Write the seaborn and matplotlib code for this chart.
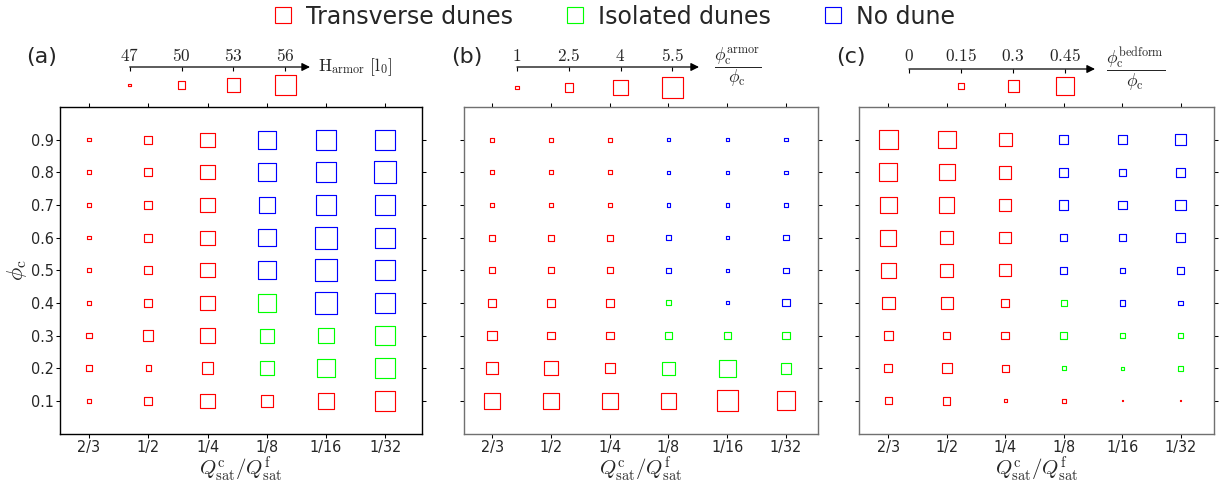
import numpy as np
import pandas as pd
import matplotlib
matplotlib.use("Agg")
import matplotlib.pyplot as plt
from matplotlib import font_manager
from matplotlib.lines import Line2D
import seaborn as sns

# ---------------- data ----------------
flux_ratio = ["2/3", "1/2", "1/4", "1/8", "1/16", "1/32"]
phi_c = [0.1, 0.2, 0.3, 0.4, 0.5, 0.6, 0.7, 0.8, 0.9]

# bedform regime for each flux-ratio column, from phi_c = 0.1 up to 0.9
# T: transverse dunes, I: isolated dunes, N: no dune
regime = [
    list("TTTTTTTTT"),
    list("TTTTTTTTT"),
    list("TTTTTTTTT"),
    list("TIIINNNNN"),
    list("TIINNNNNN"),
    list("TIINNNNNN"),
]

# (a) armor layer thickness H_armor [l0]
h_armor = [
    [47.5, 48.9, 48.9, 47.5, 47.5, 47.5, 47.5, 47.5, 47.5],
    [50.3, 48.7, 51.4, 50.3, 50.3, 50.3, 50.3, 50.3, 50.3],
    [53.4, 52.3, 53.4, 53.4, 53.4, 53.4, 53.4, 53.4, 53.4],
    [52.3, 53.3, 53.3, 54.8, 54.8, 54.8, 54.05, 54.8, 54.8],
    [54.05, 54.7, 54.05, 56.4, 56.4, 56.4, 55.6, 55.6, 55.6],
    [55.6, 55.6, 55.6, 55.6, 55.6, 55.6, 55.6, 56.4, 55.6],
]

# (b) phi_c^armor / phi_c
armor_ratio = [
    [4.0, 3.2, 2.85, 2.4, 1.8, 1.8, 1.3, 1.2, 1.2],
    [4.1, 3.7, 2.4, 2.4, 1.8, 1.8, 1.2, 1.2, 1.2],
    [4.1, 2.9, 2.4, 2.4, 1.8, 1.8, 1.2, 1.2, 1.2],
    [4.1, 3.5, 2.2, 1.6, 1.6, 1.6, 1.1, 1.1, 1.1],
    [5.5, 4.45, 2.2, 1.0, 1.0, 1.0, 1.0, 1.0, 1.0],
    [4.9, 3.05, 2.2, 2.2, 1.6, 1.6, 1.0, 1.0, 1.0],
]

# (c) phi_c^bedform / phi_c
bedform_ratio = [
    [0.17, 0.20, 0.24, 0.33, 0.38, 0.40, 0.42, 0.44, 0.46],
    [0.19, 0.26, 0.19, 0.31, 0.34, 0.35, 0.39, 0.40, 0.44],
    [0.07, 0.17, 0.20, 0.21, 0.31, 0.31, 0.33, 0.33, 0.34],
    [0.10, 0.10, 0.17, 0.15, 0.17, 0.17, 0.25, 0.25, 0.25],
    [0.0, 0.06, 0.11, 0.125, 0.125, 0.17, 0.23, 0.17, 0.23],
    [0.0, 0.11, 0.11, 0.11, 0.19, 0.23, 0.29, 0.23, 0.29],
]

# size-key values and their labels
h_keys = [47, 50, 53, 56]
h_key_labels = ["47", "50", "53", "56"]
armor_keys = [1, 2.5, 4, 5.5]
armor_key_labels = ["1", "2.5", "4", "5.5"]
bedform_keys = [0, 0.15, 0.3, 0.45]
bedform_key_labels = ["0", "0.15", "0.3", "0.45"]

regime_names = {"T": "Transverse dunes", "I": "Isolated dunes", "N": "No dune"}

# ---------------- style ----------------
sns.set_style("white")
plt.rcParams["mathtext.fontset"] = "cm"
plt.rcParams["font.family"] = ["DejaVu Sans"]


def pick_tick_font():
    entries = font_manager.fontManager.ttflist
    if any(f.name == "Liberation Sans Narrow" for f in entries):
        return {"family": "Liberation Sans Narrow"}
    if any(f.name == "DejaVu Sans" and "condensed" in str(f.stretch) for f in entries):
        return {"family": "DejaVu Sans", "stretch": "condensed"}
    return {"family": "DejaVu Sans"}


TICK_FONT = pick_tick_font()

W, H, DPI = 1219, 490, 100
LW_PX = 1.15
LW_PT = LW_PX * 72 / DPI
palette = {"Transverse dunes": "#ff0000", "Isolated dunes": "#00ff00", "No dune": "#0000ff"}

# outer square side (px) at each key value of the three size scales
h_px = [4.0, 8.7, 14.3, 22.0]
armor_px = [4.3, 9.3, 16.7, 22.0]
bedform_px = [1.8, 7.3, 12.3, 19.3]


def side_px(v, keys, px):
    keys = np.asarray(keys, float)
    px = np.asarray(px, float)
    if v < keys[0]:
        return px[0] + (v - keys[0]) * (px[1] - px[0]) / (keys[1] - keys[0])
    if v > keys[-1]:
        return px[-1] + (v - keys[-1]) * (px[-1] - px[-2]) / (keys[-1] - keys[-2])
    return float(np.interp(v, keys, px))


def marker_area(v, keys, px):
    inner = max(side_px(v, keys, px) - LW_PX, 0.8)
    return (inner * 72 / DPI) ** 2


def make_hollow(coll):
    fc = coll.get_facecolors()
    coll.set_edgecolors(fc)
    coll.set_facecolors("none")
    coll.set_linewidths(LW_PT)


fig = plt.figure(figsize=(W / DPI, H / DPI), dpi=DPI)


def px_axes(x0, y0, x1, y1):
    return fig.add_axes([x0 / W, 1 - y1 / H, (x1 - x0) / W, (y1 - y0) / H])


def draw_panel(ax, values, keys, px, xlim, spine_color):
    df = pd.DataFrame({
        "flux": np.repeat(flux_ratio, len(phi_c)),
        "phi": np.tile(phi_c, len(flux_ratio)),
        "value": np.concatenate(values),
        "regime": [regime_names[r] for col in regime for r in col],
    })
    sizes = {v: marker_area(v, keys, px) for v in np.unique(df["value"])}
    sns.scatterplot(data=df, x="flux", y="phi", hue="regime", palette=palette,
                    size="value", sizes=sizes, marker="s", legend=False, ax=ax)
    make_hollow(ax.collections[-1])
    ax.set_xlim(*xlim)
    ax.set_ylim(0, 1)
    ax.set_yticks(phi_c)
    ax.set_yticklabels([f"{p:.1f}" for p in phi_c])
    ax.tick_params(axis="both", direction="out", length=3.0, width=0.75, color="k",
                   top=True, right=True, bottom=True, left=True,
                   labelsize=11.5, pad=1.5)
    for lab in ax.get_xticklabels() + ax.get_yticklabels():
        lab.set_family(TICK_FONT["family"])
        if "stretch" in TICK_FONT:
            lab.set_stretch(TICK_FONT["stretch"])
    for sp in ax.spines.values():
        sp.set_color(spine_color)
        sp.set_linewidth(1.0)
    ax.set_xlabel(r"$Q^{\rm c}_{\rm sat}/Q^{\rm f}_{\rm sat}$", fontsize=15)
    ax.xaxis.set_label_coords(0.5, -0.063)
    ax.set_ylabel("")


def draw_key(x0, x1, keys, labels, px, y_arrow, y_sq, tip_px):
    kax = px_axes(x0, 40, x1, 100)
    kdf = pd.DataFrame({"value": keys, "y": [y_sq] * len(keys)})
    sizes = {v: marker_area(v, keys, px) for v in np.unique(kdf["value"])}
    sns.scatterplot(data=kdf, x="value", y="y", size="value", sizes=sizes,
                    marker="s", color="#ff0000", legend=False, ax=kax)
    coll = kax.collections[-1]
    make_hollow(coll)
    coll.set_clip_on(False)
    kax.set_xlim(keys[0], keys[-1])
    kax.set_ylim(100, 40)
    kax.axis("off")
    tip = keys[0] + (tip_px - x0) / (x1 - x0) * (keys[-1] - keys[0])
    kax.annotate("", xy=(tip, y_arrow), xytext=(keys[0], y_arrow),
                 arrowprops=dict(arrowstyle="-|>", color="k", lw=0.9,
                                 mutation_scale=12, shrinkA=0, shrinkB=0),
                 annotation_clip=False)
    kax.vlines(keys, y_arrow, y_arrow + 4, color="k", lw=0.8, clip_on=False)
    for k, t in zip(keys, labels):
        kax.text(k, 56, f"${t}$", ha="center", va="center", fontsize=12.5)
    return kax


# main panels (pixel boxes)
ax_a = px_axes(60, 107, 422, 433.5)
ax_b = px_axes(464, 107, 818, 433.5)
ax_c = px_axes(859, 107, 1214, 433.5)

draw_panel(ax_a, h_armor, h_keys, h_px, (-0.49, 5.62), "k")
draw_panel(ax_b, armor_ratio, armor_keys, armor_px, (-0.48, 5.545), "#707070")
draw_panel(ax_c, bedform_ratio, bedform_keys, bedform_px, (-0.5, 5.57), "#707070")

ax_a.tick_params(labelleft=True)
ax_b.tick_params(labelleft=False)
ax_c.tick_params(labelleft=False)
ax_a.set_ylabel(r"$\phi_{\rm c}$", fontsize=16)
ax_a.yaxis.set_label_coords(-0.085, 0.5)

# size keys above each panel
ka = draw_key(129.7, 285.3, h_keys, h_key_labels, h_px, 67, 85, 310)
ka.text(1.21, 67, r"$\mathrm{H}_{\mathrm{armor}}\ [\mathrm{l}_0]$",
        transform=ka.get_yaxis_transform(), ha="left", va="center", fontsize=12.5)

kb = draw_key(517, 672.3, armor_keys, armor_key_labels, armor_px, 67, 87.5, 699)
kb.text(1.42, 67, r"$\dfrac{\phi_{\rm c}^{\rm armor}}{\phi_{\rm c}}$",
        transform=kb.get_yaxis_transform(), ha="center", va="center", fontsize=12.5)

kc = draw_key(909, 1065.3, bedform_keys, bedform_key_labels, bedform_px, 69, 86, 1095)
kc.text(1.45, 69, r"$\dfrac{\phi_{\rm c}^{\rm bedform}}{\phi_{\rm c}}$",
        transform=kc.get_yaxis_transform(), ha="center", va="center", fontsize=12.5)

# panel letters
for x, t in [(26, "(a)"), (451, "(b)"), (836, "(c)")]:
    fig.text(x / W, 1 - 57 / H, t, ha="left", va="center", fontsize=16)

# regime legend
handles = [Line2D([], [], ls="none", marker="s", markersize=12.2, markerfacecolor="none",
                  markeredgecolor=c, markeredgewidth=LW_PT) for c in palette.values()]
fig.legend(handles, list(palette.keys()), loc="upper center", bbox_to_anchor=(0.503, 1.034),
           ncol=3, frameon=False, fontsize=17.0, handlelength=1.0, handletextpad=0.5,
           columnspacing=2.1)

fig.savefig("out.png", dpi=DPI)
